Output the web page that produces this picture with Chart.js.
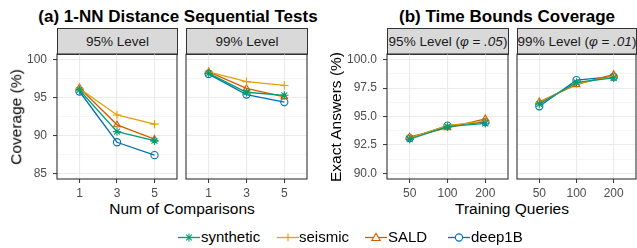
<!DOCTYPE html>
<html><head><meta charset="utf-8">
<script src="https://cdn.jsdelivr.net/npm/chart.js@4"></script>
<style>
body{margin:0;width:637px;height:248px;background:#fff;position:relative;overflow:hidden;font-family:"Liberation Sans",Arial,sans-serif;color:#000;}
canvas{position:absolute;}
.title{position:absolute;font-weight:bold;font-size:17px;line-height:1;white-space:nowrap;transform:translateX(-50%);}
.strip{position:absolute;top:28px;height:27px;background:#D9D9D9;border:1px solid #333;box-sizing:border-box;font-size:13.5px;color:#1A1A1A;display:flex;align-items:center;justify-content:center;white-space:nowrap;}
.xt{position:absolute;font-size:15.5px;line-height:1;white-space:nowrap;transform:translateX(-50%);}
.yt{position:absolute;font-size:15.5px;line-height:1;white-space:nowrap;transform:translate(-50%,-50%) rotate(-90deg);}
.lg{position:absolute;top:229px;font-size:15px;line-height:1;white-space:nowrap;}
.key{position:absolute;top:230px;}
</style></head>
<body>
<div class="title" style="left:178px;top:7.5px">(a) 1-NN Distance Sequential Tests</div>
<div class="title" style="left:507px;top:7.5px">(b) Time Bounds Coverage</div>

<div class="strip" style="left:57px;width:121px">95% Level</div>
<div class="strip" style="left:186px;width:122px">99% Level</div>
<div class="strip" style="left:387px;width:122px">95% Level (<i>φ</i>&nbsp;=&nbsp;<i>.05</i>)</div>
<div class="strip" style="left:517px;width:120px">99% Level (<i>φ</i>&nbsp;=&nbsp;<i>.01</i>)</div>

<canvas id="a1"></canvas><canvas id="a2"></canvas><canvas id="b1"></canvas><canvas id="b2"></canvas>

<div class="yt" style="left:16px;top:117px">Coverage (%)</div>
<div class="yt" style="left:336px;top:117px">Exact Answers (%)</div>
<div class="xt" style="left:182px;top:201px">Num of Comparisons</div>
<div class="xt" style="left:512px;top:201px">Training Queries</div>

<svg class="key" style="left:178px" width="22" height="15"><line x1="0" y1="7.5" x2="22" y2="7.5" stroke="#009E73" stroke-width="1.3"/><g stroke="#009E73" stroke-width="1.1"><line x1="7" y1="7.5" x2="15" y2="7.5"/><line x1="11" y1="3.5" x2="11" y2="11.5"/><line x1="8.2" y1="4.7" x2="13.8" y2="10.3"/><line x1="8.2" y1="10.3" x2="13.8" y2="4.7"/></g></svg>
<div class="lg" style="left:201px">synthetic</div>
<svg class="key" style="left:277px" width="22" height="15"><line x1="0" y1="7.5" x2="22" y2="7.5" stroke="#E69F00" stroke-width="1.3"/><line x1="11" y1="3.5" x2="11" y2="11.5" stroke="#E69F00" stroke-width="1.1"/></svg>
<div class="lg" style="left:299px">seismic</div>
<svg class="key" style="left:365px" width="22" height="15"><line x1="0" y1="7.5" x2="22" y2="7.5" stroke="#D55E00" stroke-width="1.3"/><polygon points="11,3.3 6.8,10.5 15.2,10.5" fill="#fff" stroke="#D55E00" stroke-width="1.1"/></svg>
<div class="lg" style="left:388px">SALD</div>
<svg class="key" style="left:448px" width="22" height="15"><line x1="0" y1="7.5" x2="22" y2="7.5" stroke="#0072B2" stroke-width="1.3"/><circle cx="11" cy="7.5" r="3.6" fill="#fff" stroke="#0072B2" stroke-width="1.1"/></svg>
<div class="lg" style="left:471px">deep1B</div>

<script>
// ---- data ----
const seriesNames = ['synthetic', 'seismic', 'SALD', 'deep1B'];
const comparisons = ['1', '3', '5'];
const trainingQueries = ['50', '100', '200'];

const coverage95_synthetic = [96.0, 90.5, 89.3];
const coverage95_seismic   = [96.2, 92.7, 91.5];
const coverage95_SALD      = [96.3, 91.4, 89.5];
const coverage95_deep1B    = [95.8, 89.1, 87.4];

const coverage99_synthetic = [98.2, 95.7, 95.3];
const coverage99_seismic   = [98.4, 97.1, 96.6];
const coverage99_SALD      = [98.4, 96.2, 95.1];
const coverage99_deep1B    = [98.1, 95.4, 94.4];

const exact95_synthetic = [93.0, 94.1, 94.4];
const exact95_seismic   = [93.1, 94.2, 94.6];
const exact95_SALD      = [93.2, 94.0, 94.8];
const exact95_deep1B    = [93.1, 94.2, 94.5];

const exact99_synthetic = [96.1, 98.0, 98.4];
const exact99_seismic   = [96.2, 97.9, 98.5];
const exact99_SALD      = [96.3, 97.8, 98.7];
const exact99_deep1B    = [95.9, 98.2, 98.5];

const coverageTicks = [85, 90, 95, 100];
const coverageMinor = [87.5, 92.5, 97.5];
const exactTicks = [90, 92.5, 95, 97.5, 100];
const exactMinor = [91.25, 93.75, 96.25, 98.75];

// ---- styles ----
const colors = {synthetic:'#009E73', seismic:'#E69F00', SALD:'#D55E00', deep1B:'#0072B2'};
const shapes = {synthetic:'star', seismic:'cross', SALD:'triangle', deep1B:'circle'};
const radii = {synthetic:4.2, seismic:4.2, SALD:3.8, deep1B:3.6};
const FONT = '"Liberation Sans", Arial, sans-serif';

const framePlugin = {
  id:'frame',
  afterDraw(chart){
    const a = chart.chartArea, c = chart.ctx;
    c.save(); c.strokeStyle = '#333'; c.lineWidth = 1.1;
    c.strokeRect(a.left, a.top, a.right - a.left, a.bottom - a.top);
    c.restore();
  }
};

function noPad(s){ s.paddingTop = 0; s.paddingBottom = 0; s.paddingLeft = 0; s.paddingRight = 0; }

function panel(id, left, right, showY, yMin, yMax, majors, minors, yFmt, cats, series){
  const cv = document.getElementById(id);
  const yW = 57;
  const cl = showY ? left - yW : left - 3;
  const padL = showY ? 0 : 3;
  const w = Math.round(right - cl + 3);
  const top = 50, h = 150;
  cv.width = w; cv.height = h;
  cv.style.left = cl + 'px'; cv.style.top = top + 'px';
  cv.style.width = w + 'px'; cv.style.height = h + 'px';
  const allTicks = majors.concat(minors).sort((a,b)=>a-b);
  const datasets = seriesNames.map(n => ({
    label: n,
    data: series[n].map((v,i)=>({x:i, y:v})),
    borderColor: colors[n],
    backgroundColor: 'rgba(0,0,0,0)',
    pointBackgroundColor: 'rgba(0,0,0,0)',
    pointBorderColor: colors[n],
    pointStyle: shapes[n],
    pointRadius: radii[n],
    pointBorderWidth: 1.1,
    borderWidth: 1.3,
    tension: 0
  }));
  new Chart(cv, {
    type:'line',
    data:{datasets},
    options:{
      responsive:false, animation:false, devicePixelRatio:1,
      layout:{autoPadding:false, padding:{left:padL, right:3, top:4, bottom:0}},
      plugins:{legend:{display:false}, tooltip:{enabled:false}},
      scales:{
        x:{
          type:'linear', min:-0.6, max:2.6,
          afterBuildTicks: s => { s.ticks = cats.map((c,i)=>({value:i})); },
          afterFit: s => { s.height = 21; noPad(s); },
          ticks:{autoSkip:false, maxRotation:0, padding:3, color:'#4D4D4D', font:{family:FONT, size:12},
                 callback:(v,i)=>cats[i]},
          grid:{color:'#EBEBEB', lineWidth:1.1, drawTicks:true, tickLength:4, tickColor:'#333', tickWidth:1},
          border:{display:false}
        },
        y:{
          type:'linear', min:yMin, max:yMax,
          afterBuildTicks: s => { s.ticks = allTicks.map(v=>({value:v, minor: !majors.includes(v)})); },
          afterFit: s => { s.width = showY ? yW : 0; noPad(s); },
          ticks:{display:showY, autoSkip:false, padding:6, color:'#4D4D4D', font:{family:FONT, size:12},
                 callback:(v,i,t)=> (t[i] && t[i].minor) ? '' : yFmt(v)},
          grid:{
            color: ctx => (ctx.tick && ctx.tick.minor) ? '#F0F0F0' : '#EBEBEB',
            lineWidth: ctx => (ctx.tick && ctx.tick.minor) ? 0.6 : 1.1,
            drawTicks: showY, tickLength:4,
            tickColor: ctx => (ctx.tick && ctx.tick.minor) ? 'rgba(0,0,0,0)' : '#333',
            tickWidth:1
          },
          border:{display:false}
        }
      }
    },
    plugins:[framePlugin]
  });
}

const f0 = v => String(v);
const f1 = v => v.toFixed(1);

panel('a1', 57, 177, true, 84.25, 100.75, coverageTicks, coverageMinor, f0, comparisons,
  {synthetic:coverage95_synthetic, seismic:coverage95_seismic, SALD:coverage95_SALD, deep1B:coverage95_deep1B});
panel('a2', 186, 307, false, 84.25, 100.75, coverageTicks, coverageMinor, f0, comparisons,
  {synthetic:coverage99_synthetic, seismic:coverage99_seismic, SALD:coverage99_SALD, deep1B:coverage99_deep1B});
panel('b1', 387, 508, true, 89.5, 100.5, exactTicks, exactMinor, f1, trainingQueries,
  {synthetic:exact95_synthetic, seismic:exact95_seismic, SALD:exact95_SALD, deep1B:exact95_deep1B});
panel('b2', 517, 636, false, 89.5, 100.5, exactTicks, exactMinor, f1, trainingQueries,
  {synthetic:exact99_synthetic, seismic:exact99_seismic, SALD:exact99_SALD, deep1B:exact99_deep1B});
</script>
</body></html>
